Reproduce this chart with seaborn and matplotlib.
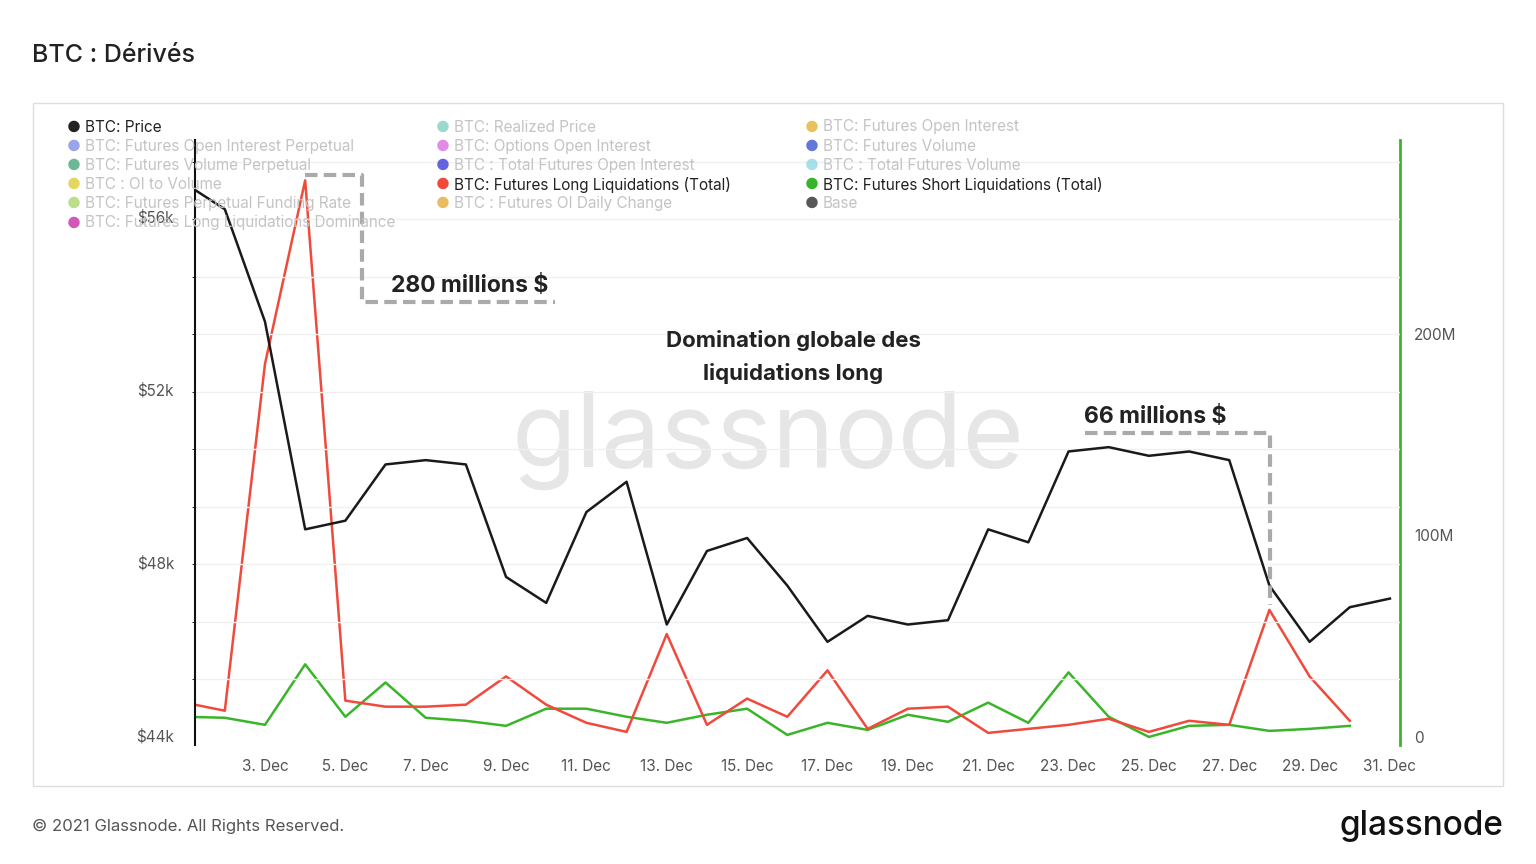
import matplotlib
matplotlib.use("Agg")
import matplotlib.pyplot as plt
import seaborn as sns
import pandas as pd
from matplotlib.patches import Rectangle

days = list(range(1, 32))
price_k = [56.8, 56.2, 53.6, 48.8, 49.0, 50.3, 50.4, 50.3, 47.7, 47.1, 49.2, 49.9, 46.6, 48.3, 48.6, 47.5,
           46.2, 46.8, 46.6, 46.7, 48.8, 48.5, 50.6, 50.7, 50.5, 50.6, 50.4, 47.5, 46.2, 47.0, 47.2]
long_liq_m = [17, 13, 185, 276, 18, 15, 15, 16, 30, 16, 7, 2.5, 51, 6, 19, 10, 33, 4, 14, 15, 2, 4, 6, 9,
              2.5, 8, 6, 63, 30, 8]
short_liq_m = [10, 9.5, 6, 36, 10, 27, 9.5, 8, 5.5, 14, 14, 10, 7, 11, 14, 1, 7, 3.5, 11, 7.5, 17, 7, 32,
               10, 0, 5.5, 6, 3, 4, 5.5]
tick_days = list(range(3, 32, 2))
tick_labels = [f"{d}. Dec" for d in tick_days]
legend_cols = [
    [("BTC: Price", "#222222", True), ("BTC: Futures Open Interest Perpetual", "#6f7ee0", False),
     ("BTC: Futures Volume Perpetual", "#2e9a6a", False), ("BTC : OI to Volume", "#d8c41c", False),
     ("BTC: Futures Perpetual Funding Rate", "#9ed05a", False), ("BTC: Futures Long Liquidations Dominance", "#c0139c", False)],
    [("BTC: Realized Price", "#6fc9b8", False), ("BTC: Options Open Interest", "#d65be0", False),
     ("BTC : Total Futures Open Interest", "#2323d8", False), ("BTC: Futures Long Liquidations (Total)", "#f04a3c", True),
     ("BTC : Futures OI Daily Change", "#e0a020", False)],
    [("BTC: Futures Open Interest", "#e0a91c", False), ("BTC: Futures Volume", "#1f3fc8", False),
     ("BTC : Total Futures Volume", "#7fd4e0", False), ("BTC: Futures Short Liquidations (Total)", "#36b52a", True),
     ("Base", "#111111", False)],
]

W, H = 1536, 864
fig = plt.figure(figsize=(W / 100, H / 100), dpi=100)
plt.rcParams["font.family"] = "Inter"
fig.text(32 / W, 1 - 55 / H, "BTC : Dérivés", fontsize=18, va="center", color="#222", fontweight="medium")
fig.patches.append(Rectangle((33 / W, 1 - 786 / H), 1470 / W, 683 / H, transform=fig.transFigure,
                             fill=False, ec="#dddddd", lw=1))
fig.text(32 / W, 1 - 826 / H, "© 2021 Glassnode. All Rights Reserved.", fontsize=12, va="center", color="#555")
fig.text(1503 / W, 1 - 826 / H, "glassnode", fontsize=24, va="center", ha="right", color="#111", fontweight="medium")

ax = fig.add_axes([195 / W, 1 - 745 / H, 1205 / W, 605 / H])
ax2 = ax.twinx()
dfp = pd.DataFrame({"day": days, "price": price_k})
dfl = pd.DataFrame({"day": days[:30], "long": long_liq_m, "short": short_liq_m})
sns.lineplot(data=dfp, x="day", y="price", ax=ax, color="#1a1a1a", lw=1.8)
sns.lineplot(data=dfl, x="day", y="short", ax=ax2, color="#3ab52a", lw=1.8)
sns.lineplot(data=dfl, x="day", y="long", ax=ax2, color="#f04a3c", lw=1.8)
ax.set_xlim(1.258, 31.25)
ax.set_ylim(43.815, 57.8)
ax2.set_ylim(-4, 296)
ax.set_xticks(tick_days, tick_labels)
ax.set_yticks([44, 48, 52, 56], ["$44k", "$48k", "$52k", "$56k"])
ax2.set_yticks([0, 100, 200], ["0", "100M", "200M"])
for a in (ax, ax2):
    a.set_xlabel(""); a.set_ylabel("")
    a.tick_params(length=0, labelsize=11, colors="#555", pad=10)
    for s in a.spines.values():
        s.set_visible(False)
ax.yaxis.set_tick_params(pad=15)
for lab in ax.get_yticklabels():
    lab.set_va("center")
ax.set_yticks([44 + i * 1.33 for i in range(11)], minor=True)
ax.grid(True, which="minor", axis="y", color="#f0f0f0", lw=1)
ax.spines["left"].set_visible(True); ax.spines["left"].set_color("#111"); ax.spines["left"].set_linewidth(1.5)
ax2.spines["right"].set_visible(True); ax2.spines["right"].set_color("#3ab52a"); ax2.spines["right"].set_linewidth(2)
ax.set_zorder(ax2.get_zorder() + 1); ax.patch.set_visible(False)

fig.text(768 / W, 1 - 440 / H, "glassnode", fontsize=76, ha="center", va="center", color="#e6e6e6", zorder=0)

def px(x, y):
    return x / W, 1 - y / H

dash = dict(color="#aaaaaa", lw=3, ls=(0, (3, 1.5)), transform=fig.transFigure)
fig.add_artist(plt.Line2D(*zip(px(305, 175), px(362, 175), px(362, 302), px(555, 302)), **dash))
fig.add_artist(plt.Line2D(*zip(px(1085, 433), px(1270, 433), px(1270, 605)), **dash))
fig.text(*px(470, 286), "280 millions $", fontsize=16.5, fontweight="bold", ha="center", va="center", color="#222")
fig.text(*px(1155, 417), "66 millions $", fontsize=16.5, fontweight="bold", ha="center", va="center", color="#222")
fig.text(*px(793, 357), "Domination globale des\nliquidations long", fontsize=16, fontweight="bold",
         ha="center", va="center", color="#222", linespacing=1.7)

col_x = [68, 437, 806]
for cx, col in zip(col_x, legend_cols):
    for i, (name, c, active) in enumerate(col):
        y = 127 + i * 19.2
        fig.text(*px(cx + 6, y), "●", color=c, alpha=1 if active else 0.7, fontsize=11, ha="center", va="center")
        fig.text(*px(cx + 17, y), name, color="#222" if active else "#c4c4c4", fontsize=11, va="center")

fig.savefig("out.png", dpi=100)
